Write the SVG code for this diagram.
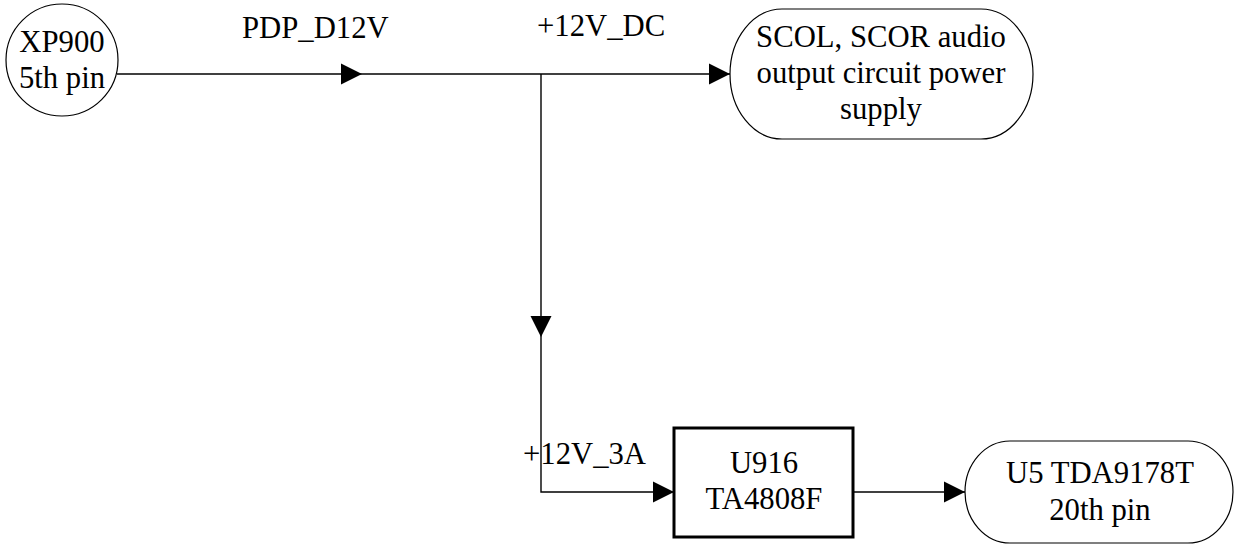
<svg xmlns="http://www.w3.org/2000/svg" xmlns:xlink="http://www.w3.org/1999/xlink" width="1236" height="545" viewBox="0 0 1236 545">
<style>
text{font-family:"Liberation Serif","Times New Roman",serif;font-size:30.7px;fill:#000}
.c{text-anchor:middle}
.shape{fill:#fff;stroke:#000;stroke-width:1.2}
.box{fill:#fff;stroke:#000;stroke-width:3}
.wire{fill:none;stroke:#000;stroke-width:1.4}
</style>
<defs>
<path id="ah" d="M0,0 L-21,-10.5 L-21,10.5 Z" fill="#000"/>
</defs>
<rect width="1236" height="545" fill="#fff"/>
<g id="connectors">
<polyline class="wire" points="117,74 730,74"/>
<polyline class="wire" points="541,74 541,492 673,492"/>
<polyline class="wire" points="853,492 965,492"/>
<use xlink:href="#ah" transform="translate(362,74)"/>
<use xlink:href="#ah" transform="translate(730,74)"/>
<use xlink:href="#ah" transform="translate(541,337) rotate(90)"/>
<use xlink:href="#ah" transform="translate(674,492)"/>
<use xlink:href="#ah" transform="translate(965,492)"/>
<text x="242" y="38">PDP_D12V</text>
<text x="537" y="36">+12V_DC</text>
<text x="523" y="464">+12V_3A</text>
</g>
<g id="xp900">
<circle class="shape" cx="62" cy="60" r="56"/>
<text class="c" x="62" y="52">XP900</text>
<text class="c" x="62" y="88">5th pin</text>
</g>
<g id="scol">
<rect class="shape" x="730" y="9" width="303" height="130" rx="52" ry="65"/>
<text class="c" x="881" y="47">SCOL, SCOR audio</text>
<text class="c" x="881" y="83">output circuit power</text>
<text class="c" x="881" y="119">supply</text>
</g>
<g id="u916">
<rect class="box" x="674" y="428" width="179" height="109"/>
<text class="c" x="764" y="473">U916</text>
<text class="c" x="764" y="509">TA4808F</text>
</g>
<g id="u5">
<rect class="shape" x="965" y="441" width="268" height="102" rx="45" ry="51"/>
<text class="c" x="1100" y="483">U5 TDA9178T</text>
<text class="c" x="1100" y="520">20th pin</text>
</g>
</svg>
